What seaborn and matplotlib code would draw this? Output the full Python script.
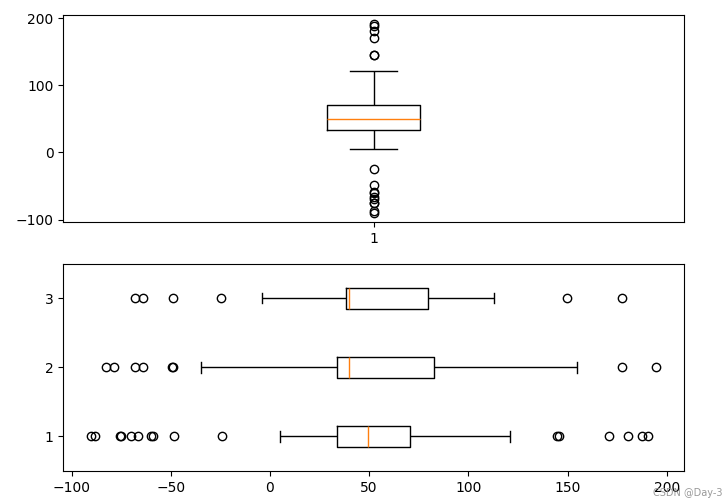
import pandas as pd
import seaborn as sns
import matplotlib.pyplot as plt
from matplotlib.ticker import MultipleLocator

# values
data1 = [-90, -88, -75.5, -75, -70, -66.5, -60, -59, -48.5, -24,
         5,
         33.7,
         36, 38.5, 41, 44, 46, 48, 49.2, 49.2, 49.2, 49.2,
         49.2,
         49.2, 49.2, 49.2, 49.2, 52, 55, 59, 62, 65, 68,
         70.8,
         80, 92, 104, 113,
         121,
         144.5, 145.5, 171, 180.5, 187.5, 190.5]

data2 = [-82.6, -78.4, -67.8, -64.1, -49.4, -48.9,
         -34.9,
         34.0,
         36, 38, 39.6, 39.6, 39.6, 39.6,
         39.6,
         39.6, 39.6, 45, 55, 65, 75,
         82.6,
         95, 113, 130, 149.6,
         154.8,
         177.5, 194.4]

data3 = [-67.8, -64.1, -48.9, -24.5,
         -4.2,
         38.4,
         39.6, 39.6, 39.6, 39.6,
         39.6,
         45, 55, 65, 72,
         79.8,
         90, 100,
         113,
         149.6, 177.5]

groups = ['1', '2', '3']

top = pd.DataFrame({'group': '1', 'value': data1})
bottom = pd.concat([
    pd.DataFrame({'group': g, 'value': d})
    for g, d in zip(groups, [data1, data2, data3])
])

box_kw = dict(
    fill=False, color='black', linewidth=1, whis=1.5,
    medianprops=dict(color='#ff7f0e'),
    flierprops=dict(marker='o', markerfacecolor='none',
                    markeredgecolor='black', markersize=6),
)

fig, (ax1, ax2) = plt.subplots(2, 1, figsize=(7.26, 5.01), dpi=100)
plt.subplots_adjust(left=0.087, right=0.942, top=0.970, bottom=0.060, hspace=0.2)

# single box, vertical
sns.boxplot(data=top, x='group', y='value', width=0.15, ax=ax1, **box_kw)
ax1.yaxis.set_major_locator(MultipleLocator(100))
ax1.set_xlabel('')
ax1.set_ylabel('')

# three boxes, horizontal
sns.boxplot(data=bottom, x='value', y='group', order=['3', '2', '1'],
            orient='y', width=0.3, ax=ax2, **box_kw)
ax2.set_xlabel('')
ax2.set_ylabel('')

fig.text(0.995, 0.005, 'CSDN @Day-3', ha='right', va='bottom',
         fontsize=7, color='#999999')

plt.savefig('out.png')
